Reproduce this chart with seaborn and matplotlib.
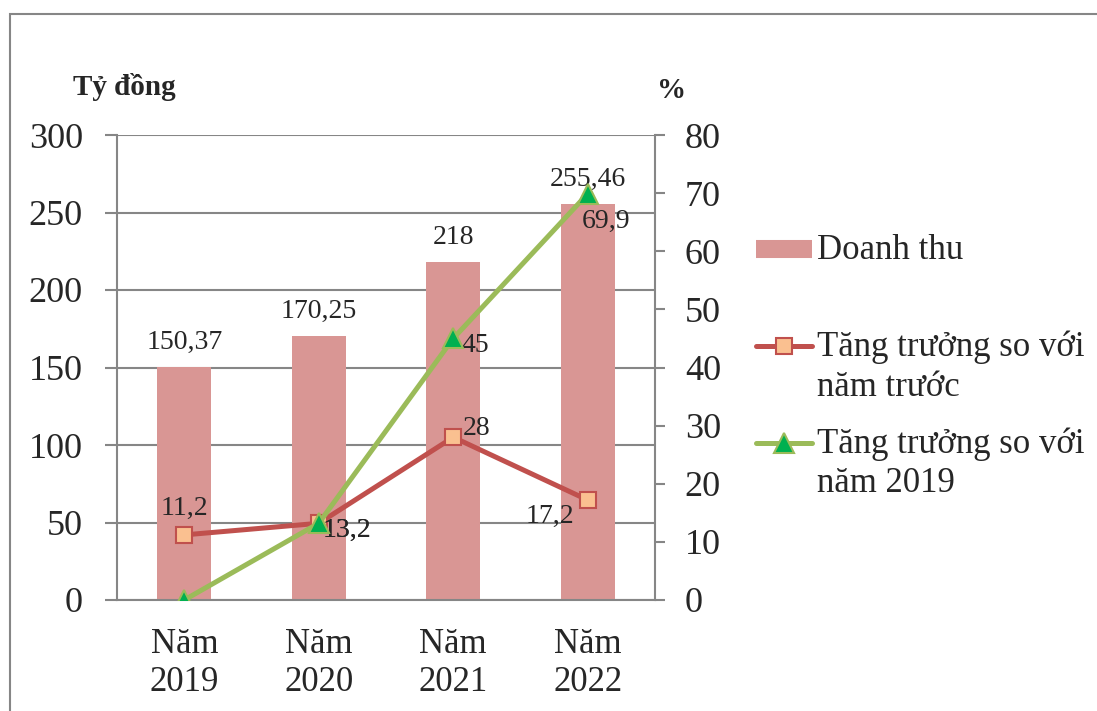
import numpy as np
import matplotlib
matplotlib.use("Agg")
import matplotlib.pyplot as plt
import seaborn as sns
from matplotlib.patches import Rectangle
from matplotlib.lines import Line2D

# Data
categories = ["Năm\n2019", "Năm\n2020", "Năm\n2021", "Năm\n2022"]
revenue = [150.37, 170.25, 218, 255.46]
revenue_labels = ["150,37", "170,25", "218", "255,46"]
growth_prev = [11.2, 13.2, 28, 17.2]
growth_prev_labels = ["11,2", "13,2", "28", "17,2"]
growth_2019 = [0, 13.2, 45, 69.9]
growth_2019_labels = ["", "13,2", "45", "69,9"]
series_names = ["Doanh thu\n", "Tăng trưởng so với\nnăm trước", "Tăng trưởng so với\nnăm 2019"]
left_ticks = [0, 50, 100, 150, 200, 250, 300]
right_ticks = [0, 10, 20, 30, 40, 50, 60, 70, 80]

BAR = "#D99694"
RED = "#C0504D"
RED_FACE = "#FAC090"
GREEN = "#9BBB59"
GREEN_FACE = "#00B050"
GRAY = "#868686"
LW = 3.6

sns.set_theme(style="white")
plt.rcParams["font.family"] = ["Liberation Serif", "DejaVu Serif"]

W, H = 1097, 711
fig = plt.figure(figsize=(W / 100, H / 100), dpi=100)
ax = fig.add_axes([117 / W, 1 - 600 / H, (655 - 117) / W, (600 - 135) / H])

idx = np.arange(len(categories))

sns.barplot(x=idx, y=revenue, color=BAR, saturation=1, width=0.4, ax=ax,
            linewidth=0, zorder=2)
ax.set_xlim(-0.5, len(categories) - 0.5)
ax.set_ylim(0, 300)
ax.set_yticks(left_ticks)
ax.yaxis.grid(True, color=GRAY, lw=1.5)
ax.xaxis.grid(False)
ax.set_axisbelow(True)
ax.set_xlabel("")
ax.set_ylabel("")

# Category labels centred, tick marks on the category boundaries
ax.set_xticks(idx)
ax.set_xticklabels(categories, fontsize=25, linespacing=1.2)
ax.set_xticks(np.arange(len(categories) + 1) - 0.5, minor=True)
ax.tick_params(axis="x", which="major", length=0, pad=20)
ax.tick_params(axis="x", which="minor", length=7, width=1.5, color=GRAY, direction="out")
ax.tick_params(axis="y", length=8.5, width=1.5, color=GRAY, direction="out",
               labelsize=26, pad=16, left=True)

for s in ["left", "bottom"]:
    ax.spines[s].set_color(GRAY)
    ax.spines[s].set_linewidth(1.5)
ax.spines["top"].set_visible(False)
ax.spines["right"].set_visible(False)

for i, (v, t) in enumerate(zip(revenue, revenue_labels)):
    ax.annotate(t, (i, v), xytext=(0, 9), textcoords="offset points",
                ha="center", va="bottom", fontsize=20)

# Growth lines on the secondary axis
ax2 = ax.twinx()
sns.lineplot(x=idx, y=growth_prev, ax=ax2, color=RED, lw=LW, marker="s",
             markersize=12, markerfacecolor=RED_FACE, markeredgecolor=RED,
             markeredgewidth=1.5, zorder=3)
sns.lineplot(x=idx, y=growth_2019, ax=ax2, color=GREEN, lw=LW, marker="^",
             markersize=14, markerfacecolor=GREEN_FACE, markeredgecolor=GREEN,
             markeredgewidth=1.5, zorder=4)
ax2.set_ylim(0, 80)
ax2.set_yticks(right_ticks)
ax2.set_ylabel("")
ax2.grid(False)
ax2.tick_params(axis="y", length=7.5, width=1.5, color=GRAY, direction="out",
                labelsize=26, pad=14, right=True)
ax2.spines["right"].set_color(GRAY)
ax2.spines["right"].set_linewidth(1.5)
for s in ["top", "left", "bottom"]:
    ax2.spines[s].set_visible(False)
ax2.set_xlim(-0.5, len(categories) - 0.5)

# (dx, dy) in points, alignment
prev_offsets = [(0, 10, "center", "bottom"), (3, -5, "left", "center"),
                (7, 6, "left", "center"), (-10, -12, "right", "center")]
for i, (v, t) in enumerate(zip(growth_prev, growth_prev_labels)):
    dx, dy, ha, va = prev_offsets[i]
    ax2.annotate(t, (i, v), xytext=(dx, dy), textcoords="offset points",
                 ha=ha, va=va, fontsize=20)

g19_offsets = [(0, 0, "center", "center"), (3, -5, "left", "center"),
               (6, -5, "left", "center"), (-4, -11, "left", "top")]
for i, (v, t) in enumerate(zip(growth_2019, growth_2019_labels)):
    if not t:
        continue
    dx, dy, ha, va = g19_offsets[i]
    ax2.annotate(t, (i, v), xytext=(dx, dy), textcoords="offset points",
                 ha=ha, va=va, fontsize=20)

# Axis unit captions
fig.text(73 / W, 1 - 87 / H, "Tỷ đồng", fontsize=21, fontweight="bold",
         ha="left", va="center")
fig.text(672 / W, 1 - 90 / H, "%", fontsize=21, fontweight="bold",
         ha="center", va="center")

# Legend: a thick butt-capped line stands in for the bar swatch
handles = [
    Line2D([], [], color=BAR, lw=13, solid_capstyle="butt"),
    Line2D([], [], color=RED, lw=LW, marker="s", markersize=12,
           markerfacecolor=RED_FACE, markeredgecolor=RED, markeredgewidth=1.5),
    Line2D([], [], color=GREEN, lw=LW, marker="^", markersize=14,
           markerfacecolor=GREEN_FACE, markeredgecolor=GREEN, markeredgewidth=1.5),
]
leg = fig.legend(handles, series_names, loc="upper left",
                 bbox_to_anchor=(756 / W, 1 - 234 / H), frameon=False,
                 fontsize=25, handlelength=1.6, handletextpad=0.15,
                 handleheight=1.3, labelspacing=0.68, borderaxespad=0, borderpad=0)
for txt in leg.get_texts():
    txt.set_linespacing(1.27)
# keep each handle level with the first line of its label
for col in leg._legend_handle_box.get_children():
    for item in col.get_children():
        item.align = "top"

# Outer chart frame
fig.patches.append(Rectangle((10 / W, -0.2), 1.5, 1 - 14 / H + 0.2,
                             transform=fig.transFigure, fill=False,
                             edgecolor=GRAY, lw=1.5, zorder=-1))

fig.savefig("out.png", dpi=100)
